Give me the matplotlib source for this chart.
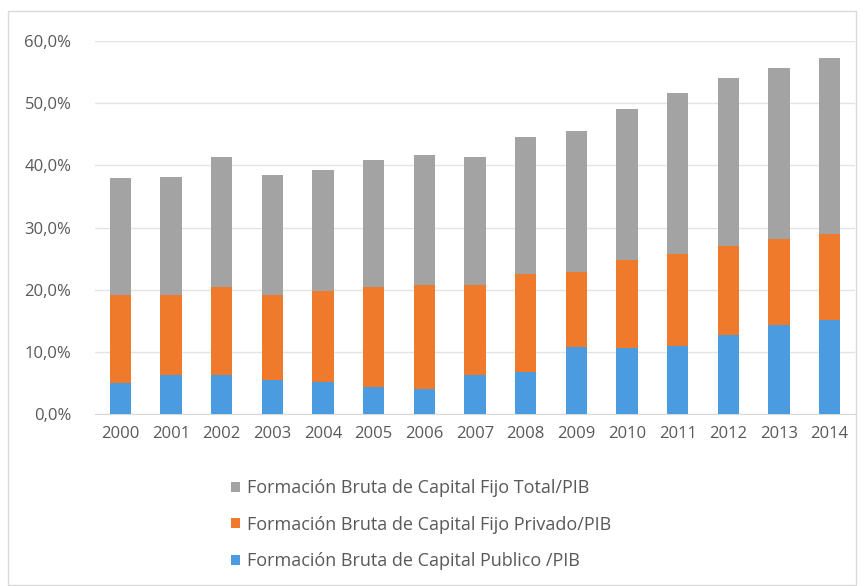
import matplotlib
matplotlib.use("Agg")
import matplotlib.pyplot as plt
from matplotlib.patches import Rectangle
from matplotlib.ticker import FuncFormatter
import numpy as np

years = ['2000', '2001', '2002', '2003', '2004', '2005', '2006', '2007',
         '2008', '2009', '2010', '2011', '2012', '2013', '2014']
# % del PIB
publico = [5.0, 6.3, 6.3, 5.5, 5.2, 4.4, 4.1, 6.3, 6.8, 10.7, 10.6, 10.9, 12.7, 14.3, 15.1]
privado = [14.1, 12.8, 14.2, 13.6, 14.6, 16.1, 16.6, 14.4, 15.8, 12.1, 14.2, 14.8, 14.3, 13.8, 13.9]
total = [18.9, 19.1, 20.9, 19.3, 19.5, 20.3, 20.9, 20.7, 22.0, 22.7, 24.3, 26.0, 27.1, 27.6, 28.3]

labels = ['Formación Bruta de Capital Fijo Total/PIB',
          'Formación Bruta de Capital Fijo Privado/PIB',
          'Formación Bruta de Capital Publico /PIB']

c_blue = '#4A9BE0'
c_orange = '#EF7A2C'
c_gray = '#A3A3A3'
txt = '#595959'

plt.rcParams['font.family'] = ['Open Sans', 'DejaVu Sans']

fig = plt.figure(figsize=(8.64, 5.86), dpi=100)
ax = fig.add_axes([95 / 864, 1 - 414 / 586, 760 / 864, 373 / 586])

x = np.arange(len(years))
w = 0.42
pub = np.array(publico)
pri = np.array(privado)
tot = np.array(total)
b1 = ax.bar(x, pub, w, color=c_blue, zorder=3)
b2 = ax.bar(x, pri, w, bottom=pub, color=c_orange, zorder=3)
b3 = ax.bar(x, tot, w, bottom=pub + pri, color=c_gray, zorder=3)

ax.set_ylim(0, 60)
ax.set_xlim(-0.5, len(years) - 0.5)
ax.set_yticks(range(0, 61, 10))
ax.yaxis.set_major_formatter(FuncFormatter(lambda v, p: f'{v:.1f}%'.replace('.', ',')))
ax.set_xticks(x)
ax.set_xticklabels(years)
ax.tick_params(length=0, labelsize=12, colors=txt)
ax.tick_params(axis='y', pad=17)
ax.tick_params(axis='x', pad=9)
ax.grid(True, axis='y', color='#E3E3E3', linewidth=1, zorder=0)
for s in ['top', 'right', 'left']:
    ax.spines[s].set_visible(False)
ax.spines['bottom'].set_color('#D9D9D9')

leg = fig.legend([b3, b2, b1], labels, loc='upper center',
                 bbox_to_anchor=(0.487, 1 - 463 / 586), ncol=1, frameon=False,
                 fontsize=13, labelcolor=txt, handlelength=0.5, handleheight=0.5,
                 handletextpad=0.4, labelspacing=1.02)

fig.patches.append(Rectangle((8 / 864, 0.002), 1 - 16 / 864, 1 - 12 / 586,
                             transform=fig.transFigure, fill=False,
                             edgecolor='#D9D9D9', linewidth=1))

fig.savefig('out.png', dpi=100, facecolor='white')
